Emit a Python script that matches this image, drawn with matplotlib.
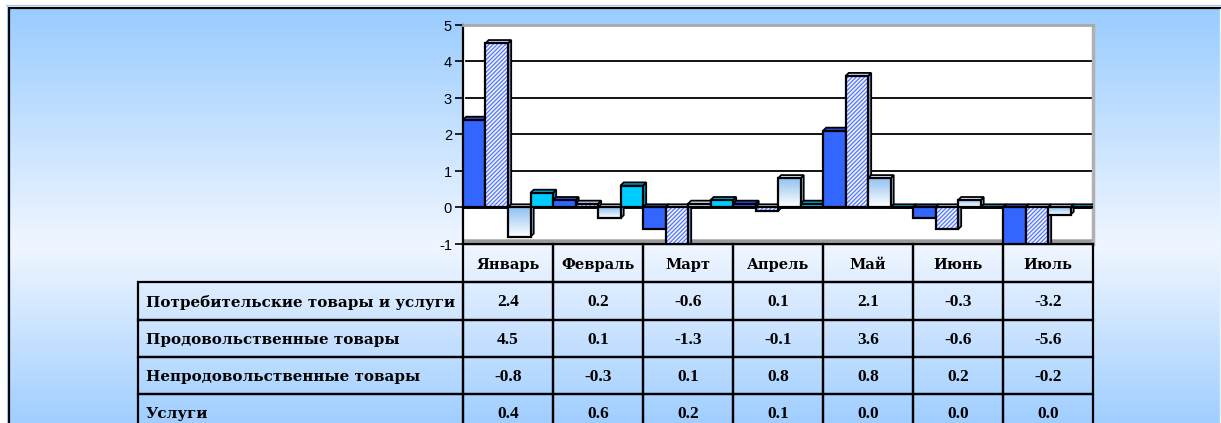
import numpy as np
import matplotlib
matplotlib.use("Agg")
import matplotlib.pyplot as plt
from matplotlib.patches import Polygon, Rectangle
from matplotlib.colors import LinearSegmentedColormap

# ---------------- data ----------------
months = ["Январь", "Февраль", "Март", "Апрель", "Май", "Июнь", "Июль"]
series_names = ["Потребительские товары и услуги", "Продовольственные товары",
                "Непродовольственные товары", "Услуги"]
consumer = [2.4, 0.2, -0.6, 0.1, 2.1, -0.3, -3.2]
food = [4.5, 0.1, -1.3, -0.1, 3.6, -0.6, -5.6]
nonfood = [-0.8, -0.3, 0.1, 0.8, 0.8, 0.2, -0.2]
services = [0.4, 0.6, 0.2, 0.1, 0.0, 0.0, 0.0]
yticks = [-1, 0, 1, 2, 3, 4, 5]

W, H = 1221, 423
fig = plt.figure(figsize=(W / 100, H / 100), dpi=100)

# ---------------- background (slide gradient + frame) ----------------
bg = fig.add_axes([0, 0, 1, 1], zorder=-10)
bg.set_axis_off()
c_top = np.array([153, 204, 255]) / 255
c_mid = np.array([240, 246, 255]) / 255
c_bot = np.array([160, 206, 255]) / 255
img = np.ones((H, W, 3))
for i in range(H):
    if i < 245:
        t = max((i - 8) / (245 - 8), 0)
        col = c_top + (c_mid - c_top) * t
    else:
        t = (i - 245) / (423 - 245)
        col = c_mid + (c_bot - c_mid) * t
    img[i, :, :] = col
img[:7, :, :] = 1.0
img[:, :8, :] = 1.0
bg.imshow(img, extent=[0, W, H, 0], aspect="auto", interpolation="nearest")
bg.set_xlim(0, W)
bg.set_ylim(H, 0)
bg.plot([8, W], [8, 8], color="black", lw=1.6, solid_capstyle="butt")
bg.plot([9, 9], [7, H], color="black", lw=1.6, solid_capstyle="butt")
bg.plot([6, W], [5.5, 5.5], color="#9cc6f5", lw=0.8)
bg.plot([6.5, 6.5], [5, H], color="#9cc6f5", lw=0.8)
bg.plot([W - 1, W - 1], [9, H], color="#e6f6ff", lw=1.0)

# ---------------- main axes ----------------
ax_l, ax_r, ax_t, ax_b = 463, 1093, 25, 244
ax_w, ax_h = ax_r - ax_l, ax_b - ax_t
ax = fig.add_axes([ax_l / W, (H - ax_b) / H, ax_w / W, ax_h / H])
ax.set_facecolor("white")
ax.set_xlim(0, len(months))
ax.set_ylim(-1, 5)
ax.set_yticks(yticks)
ax.set_yticklabels([str(v) for v in yticks], fontsize=10.5, family="Liberation Sans")
ax.set_xticks([])
ax.tick_params(axis="y", direction="out", length=6, width=1.2, pad=2, colors="black")
ax.spines["left"].set_linewidth(1.6)
ax.spines["bottom"].set_linewidth(1.6)
ax.spines["top"].set_color("#a8a8a8")
ax.spines["top"].set_linewidth(2.0)
ax.spines["right"].set_color("#b0b0b0")
ax.spines["right"].set_linewidth(2.5)

px_x = ax_w / len(months)     # pixels per x unit
px_y = ax_h / 6.0             # pixels per y unit
dx = 3.2 / px_x
dy = 3.2 / px_y

# gridlines (back wall)
for g in [1, 2, 3, 4]:
    ax.plot([dx, len(months)], [g, g], color="black", lw=1.3, zorder=1)
# floor
ax.fill_between([0, len(months)], -1, -1 + 0.14, color="#b8b8b8", zorder=1, lw=0)
ax.fill_between([0, len(months)], -1 + 0.05, -1 + 0.1, color="#9a9a9a", zorder=1.1, lw=0)
# zero plane line
ax.axhline(0, color="black", lw=2.8, zorder=1.5)

plt.rcParams["hatch.linewidth"] = 0.9
bw = 0.25
edge_lw = 1.6
styles = [
    dict(front="#3366ff", top="#2a50dc", side="#1e3cb4", kind="solid"),
    dict(front="white", top="#c5d0ff", side="#8a9ad0", kind="hatch"),
    dict(front=None, top="#cfe5ff", side="#9ebfe6", kind="grad"),
    dict(front="#00ccff", top="#00a8d8", side="#0096bb", kind="solid"),
]
grad_cmap = LinearSegmentedColormap.from_list("g", ["#ffffff", "#8ec0f0"])
all_series = [consumer, food, nonfood, services]

for j, (vals, st) in enumerate(zip(all_series, styles)):
    xs = [i + j * bw for i in range(len(months))]
    hb = None
    if st["kind"] == "solid":
        bars = ax.bar(xs, vals, width=bw, align="edge", color=st["front"],
                      edgecolor="black", linewidth=edge_lw)
    elif st["kind"] == "hatch":
        hb = ax.bar(xs, vals, width=bw, align="edge", color="#eef2ff",
                    edgecolor="#5577ff", hatch="////////", linewidth=0)
        bars = ax.bar(xs, vals, width=bw, align="edge", fill=False,
                      edgecolor="black", linewidth=edge_lw)
    else:
        bars = ax.bar(xs, vals, width=bw, align="edge", fill=False,
                      edgecolor="black", linewidth=edge_lw)
    for i, (x0, v) in enumerate(zip(xs, vals)):
        z = 3 + (i * 4 + j) * 0.05
        top = max(v, 0)
        bot = min(v, 0)
        x1 = x0 + bw
        side = Polygon([(x1, bot), (x1, top), (x1 + dx, top + dy), (x1 + dx, bot + dy)],
                       closed=True, facecolor=st["side"], edgecolor="black",
                       lw=edge_lw * 0.8, zorder=z)
        topf = Polygon([(x0, top), (x1, top), (x1 + dx, top + dy), (x0 + dx, top + dy)],
                       closed=True, facecolor=st["top"], edgecolor="black",
                       lw=edge_lw * 0.8, zorder=z)
        ax.add_patch(side)
        ax.add_patch(topf)
        bars[i].set_zorder(z + 0.02)
        if hb is not None:
            hb[i].set_zorder(z + 0.01)
        if st["kind"] == "grad" and v != 0:
            gimg = np.linspace(1, 0, 64).reshape(-1, 1)
            ax.imshow(gimg, extent=[x0, x1, bot, top], aspect="auto", cmap=grad_cmap,
                      vmin=0, vmax=1, zorder=z + 0.01, interpolation="bilinear")
ax.set_xlim(0, len(months))
ax.set_ylim(-1, 5)

# ---------------- data table (drawn in axes coordinates) ----------------
row_h = [38, 38, 37, 37, 37]      # header + 4 rows, pixels
col_w = ax_w / len(months)        # month column width, pixels
lab_w = 325                       # row-label column width, pixels
tlw = 1.6


def fx(px):
    return px / ax_w


def fy(px):
    return px / ax_h


def cell(x_px, y_top_px, w_px, h_px):
    # x from axes left, y measured downward from axes bottom
    r = Rectangle((fx(x_px), -fy(y_top_px + h_px)), fx(w_px), fy(h_px),
                  transform=ax.transAxes, clip_on=False, fill=False,
                  edgecolor="black", linewidth=tlw, zorder=10)
    ax.add_patch(r)
    return fx(x_px), -fy(y_top_px + h_px / 2)


label_font = dict(family="DejaVu Serif", weight="bold", size=10.9)
month_font = dict(family="DejaVu Serif", weight="bold", size=10.5)
num_font = dict(family="Liberation Serif", weight="bold", size=12.5)

y_top = 0
for c, m in enumerate(months):
    cx, cy = cell(c * col_w, y_top, col_w, row_h[0])
    ax.text(cx + fx(col_w / 2), cy - fy(2), m, transform=ax.transAxes, ha="center",
            va="center", clip_on=False, fontdict=month_font, zorder=11)
y_top += row_h[0]
for r, (name, vals) in enumerate(zip(series_names, [consumer, food, nonfood, services]), start=1):
    cx, cy = cell(-lab_w, y_top, lab_w, row_h[r])
    ax.text(cx + fx(8), cy - fy(1.5), name, transform=ax.transAxes, ha="left", va="center",
            clip_on=False, fontdict=label_font, zorder=11)
    for c, v in enumerate(vals):
        cx, cy = cell(c * col_w, y_top, col_w, row_h[r])
        ax.text(cx + fx(col_w / 2), cy - fy(1.5), f"{v:.1f}", transform=ax.transAxes,
                ha="center", va="center", clip_on=False, fontdict=num_font, zorder=11)
    y_top += row_h[r]

fig.savefig("out.png", dpi=100)
